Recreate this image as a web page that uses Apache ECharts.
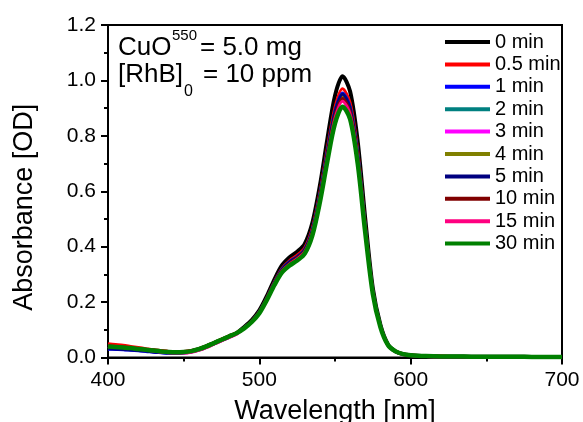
<!DOCTYPE html>
<html><head><meta charset="utf-8">
<script src="https://cdn.jsdelivr.net/npm/echarts@6/dist/echarts.min.js"></script>
<style>html,body{margin:0;padding:0;background:#fff}#c{width:583px;height:422px}</style>
</head><body><div id="c"></div>
<script>
const wavelengths = [400,405,410,415,420,425,430,435,440,445,450,455,460,465,470,475,480,485,490,495,500,505,510,515,520,525,530,535,540,545,550,555,560,565,570,575,580,585,590,595,600,610,620,630,640,650,660,670,680,690,700];

const seriesNames = ['0 min','0.5 min','1 min','2 min','3 min','4 min','5 min','10 min','15 min','30 min'];
const seriesColors = ['#000000','#ff0000','#0000ff','#008080','#ff00ff','#808000','#000080','#800000','#ff0080','#008000'];

const abs0min  = [0.040,0.038,0.036,0.034,0.031,0.028,0.025,0.022,0.020,0.019,0.020,0.023,0.030,0.040,0.052,0.064,0.076,0.088,0.110,0.135,0.170,0.222,0.282,0.333,0.362,0.382,0.410,0.485,0.620,0.790,0.945,1.015,0.960,0.780,0.500,0.250,0.118,0.047,0.022,0.012,0.008,0.005,0.004,0.004,0.003,0.003,0.003,0.003,0.002,0.002,0.002];
const abs05min = [0.050,0.047,0.044,0.040,0.036,0.032,0.028,0.025,0.022,0.021,0.022,0.025,0.032,0.042,0.054,0.066,0.078,0.090,0.108,0.132,0.166,0.216,0.274,0.322,0.350,0.369,0.396,0.467,0.595,0.757,0.904,0.970,0.919,0.747,0.480,0.242,0.115,0.047,0.023,0.013,0.009,0.006,0.005,0.004,0.004,0.003,0.003,0.003,0.003,0.002,0.002];
const abs1min  = [0.030,0.029,0.028,0.026,0.024,0.022,0.019,0.017,0.015,0.014,0.016,0.020,0.027,0.037,0.049,0.061,0.073,0.086,0.107,0.131,0.165,0.214,0.271,0.319,0.346,0.364,0.391,0.460,0.587,0.746,0.890,0.955,0.905,0.736,0.472,0.238,0.113,0.046,0.022,0.012,0.008,0.005,0.004,0.004,0.003,0.003,0.003,0.003,0.002,0.002,0.002];
const abs2min  = [0.040,0.038,0.036,0.034,0.031,0.028,0.025,0.022,0.020,0.019,0.020,0.023,0.030,0.040,0.052,0.064,0.076,0.088,0.107,0.131,0.164,0.214,0.270,0.318,0.344,0.363,0.389,0.458,0.585,0.743,0.886,0.950,0.901,0.733,0.470,0.236,0.113,0.046,0.022,0.012,0.008,0.005,0.004,0.004,0.003,0.003,0.003,0.003,0.002,0.002,0.002];
const abs3min  = [0.040,0.038,0.036,0.034,0.031,0.027,0.024,0.021,0.018,0.017,0.017,0.020,0.027,0.037,0.049,0.061,0.073,0.085,0.107,0.130,0.163,0.212,0.268,0.315,0.342,0.360,0.386,0.454,0.579,0.736,0.877,0.940,0.892,0.726,0.466,0.235,0.112,0.045,0.021,0.011,0.007,0.004,0.003,0.003,0.003,0.002,0.002,0.002,0.002,0.002,0.002];
const abs4min  = [0.040,0.038,0.036,0.034,0.031,0.028,0.025,0.022,0.020,0.019,0.020,0.023,0.030,0.040,0.052,0.064,0.076,0.088,0.107,0.130,0.164,0.213,0.269,0.316,0.343,0.362,0.388,0.456,0.582,0.739,0.881,0.945,0.896,0.729,0.468,0.235,0.112,0.045,0.022,0.012,0.008,0.005,0.004,0.004,0.003,0.003,0.003,0.003,0.002,0.002,0.002];
const abs5min  = [0.032,0.031,0.029,0.027,0.025,0.023,0.020,0.018,0.016,0.015,0.017,0.021,0.028,0.038,0.050,0.062,0.074,0.087,0.107,0.131,0.164,0.214,0.270,0.318,0.345,0.363,0.390,0.459,0.586,0.744,0.887,0.950,0.902,0.734,0.471,0.237,0.113,0.046,0.022,0.012,0.008,0.005,0.004,0.004,0.003,0.003,0.003,0.003,0.002,0.002,0.002];
const abs10min = [0.042,0.040,0.038,0.035,0.032,0.029,0.026,0.023,0.021,0.020,0.021,0.024,0.031,0.041,0.053,0.065,0.077,0.089,0.106,0.130,0.163,0.212,0.267,0.314,0.340,0.359,0.384,0.452,0.576,0.732,0.872,0.935,0.887,0.722,0.464,0.234,0.112,0.045,0.022,0.012,0.008,0.005,0.004,0.004,0.003,0.003,0.003,0.003,0.002,0.002,0.002];
const abs15min = [0.040,0.038,0.036,0.033,0.030,0.027,0.023,0.020,0.017,0.016,0.016,0.019,0.026,0.036,0.048,0.060,0.072,0.084,0.106,0.129,0.162,0.211,0.266,0.312,0.337,0.356,0.381,0.448,0.571,0.724,0.863,0.925,0.878,0.714,0.459,0.233,0.111,0.045,0.021,0.011,0.007,0.004,0.003,0.003,0.003,0.002,0.002,0.002,0.002,0.002,0.002];
const abs30min = [0.040,0.038,0.036,0.034,0.031,0.028,0.025,0.022,0.020,0.019,0.020,0.023,0.030,0.040,0.052,0.064,0.076,0.088,0.105,0.128,0.160,0.208,0.262,0.307,0.332,0.350,0.375,0.440,0.560,0.710,0.845,0.905,0.860,0.700,0.450,0.230,0.110,0.045,0.022,0.012,0.008,0.005,0.004,0.004,0.003,0.003,0.003,0.003,0.002,0.002,0.002];

const seriesValues = [abs0min,abs05min,abs1min,abs2min,abs3min,abs4min,abs5min,abs10min,abs15min,abs30min];

const xTicks = [400,500,600,700];
const yTicks = [0.0,0.2,0.4,0.6,0.8,1.0,1.2];
const noteLine1 = ['CuO','550','= 5.0 mg'];
const noteLine2 = ['[RhB]','0','= 10 ppm'];

const FONT = '"Liberation Sans", Arial, sans-serif';
const chart = echarts.init(document.getElementById('c'), null, {renderer:'canvas'});

const series = seriesNames.map((n,i)=>({
  name:n, type:'line', showSymbol:false, smooth:0.3,
  lineStyle:{color:seriesColors[i], width: i===9 ? 4.5 : (i===0 ? 4 : 3)},
  itemStyle:{color:seriesColors[i]},
  z: 2+i,
  data: wavelengths.map((w,j)=>[w, seriesValues[i][j]])
}));

function txt(s, x, y, size){
  return {type:'text', x:x, y:y, z:100, style:{text:s, fontSize:size, fontFamily:FONT, fill:'#000', verticalAlign:'middle', align:'left'}};
}

chart.setOption({
  animation:false,
  backgroundColor:'#fff',
  textStyle:{fontFamily:FONT},
  grid:{left:108, right:21, top:25, bottom:64.5, outerBoundsMode:'none', containLabel:false, show:true, borderColor:'#000', borderWidth:2, backgroundColor:'transparent'},
  xAxis:{
    type:'value', min:xTicks[0], max:xTicks[xTicks.length-1], interval:100,
    name:'Wavelength [nm]', nameLocation:'middle', nameGap:41,
    nameTextStyle:{fontSize:27, color:'#000', fontFamily:FONT},
    axisLine:{lineStyle:{color:'#000', width:2}},
    axisTick:{length:7, lineStyle:{color:'#000', width:2}},
    minorTick:{show:true, splitNumber:2, length:4, lineStyle:{color:'#000', width:2}},
    axisLabel:{fontSize:21, color:'#000', margin:12, fontFamily:FONT},
    splitLine:{show:false}
  },
  yAxis:{
    type:'value', min:0, max:1.2, interval:0.2,
    name:'Absorbance [OD]', nameLocation:'middle', nameGap:70,
    nameTextStyle:{fontSize:27, color:'#000', fontFamily:FONT, padding:[0,32,0,0]},
    axisLine:{lineStyle:{color:'#000', width:2}},
    axisTick:{length:7, lineStyle:{color:'#000', width:2}},
    minorTick:{show:true, splitNumber:2, length:4, lineStyle:{color:'#000', width:2}},
    axisLabel:{fontSize:21, color:'#000', margin:12, fontFamily:FONT, formatter:v=>v.toFixed(1)},
    splitLine:{show:false}
  },
  legend:{
    orient:'vertical', left:445, top:32, padding:0, itemWidth:45, itemHeight:4, itemGap:2.4,
    icon:'rect',
    textStyle:{fontSize:20, color:'#000', fontFamily:FONT, padding:[0,0,0,0]},
    data:seriesNames
  },
  graphic:[
    txt(noteLine1[0], 118, 48, 26),
    txt(noteLine1[1], 172, 36, 15),
    txt(noteLine1[2], 200, 48, 26),
    txt(noteLine2[0], 118, 74.5, 26),
    txt(noteLine2[1], 184, 92, 16),
    txt(noteLine2[2], 203, 74.5, 26)
  ],
  series: series
});
</script></body></html>
